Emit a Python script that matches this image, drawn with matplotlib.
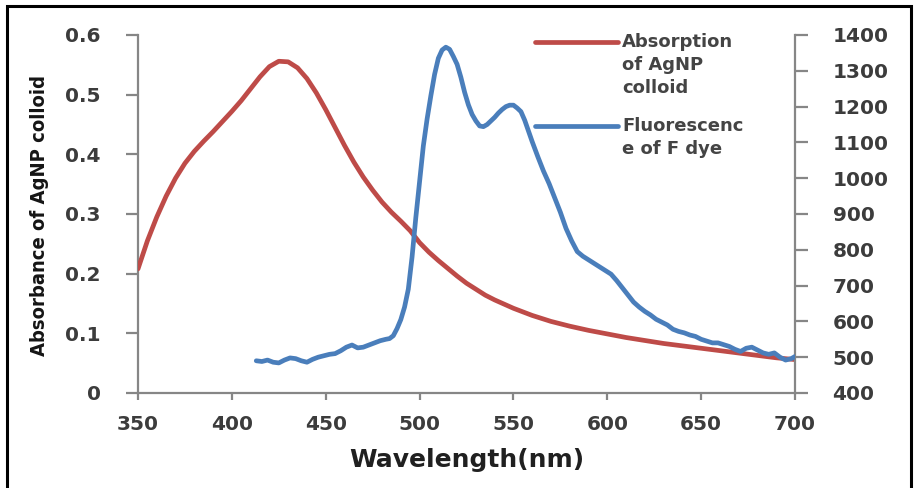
import matplotlib
matplotlib.use("Agg")
import matplotlib.pyplot as plt
from matplotlib.lines import Line2D
from matplotlib.patches import Rectangle

# absorption of AgNP colloid (left axis)
abs_wl = [350, 355, 360, 365, 370, 375, 380, 385, 390, 395, 400, 405, 410, 415,
          420, 425, 430, 435, 440, 445, 450, 455, 460, 465, 470, 475, 480, 485,
          490, 495, 500, 505, 510, 515, 520, 525, 530, 535, 540, 545, 550, 560,
          570, 580, 590, 600, 610, 620, 630, 640, 650, 660, 670, 680, 690, 700]
abs_val = [0.208, 0.255, 0.295, 0.330, 0.360, 0.385, 0.405, 0.422, 0.438, 0.455,
           0.472, 0.490, 0.510, 0.530, 0.547, 0.556, 0.555, 0.545, 0.527, 0.503,
           0.475, 0.445, 0.415, 0.387, 0.362, 0.340, 0.320, 0.303, 0.288, 0.272,
           0.252, 0.236, 0.222, 0.209, 0.196, 0.184, 0.174, 0.164, 0.156, 0.149,
           0.142, 0.130, 0.120, 0.112, 0.105, 0.099, 0.093, 0.088, 0.083, 0.079,
           0.075, 0.071, 0.067, 0.063, 0.059, 0.056]

# fluorescence of F dye (right axis)
fl_wl = [413, 416, 419, 422, 425, 428, 431, 434, 437, 440, 443, 446, 449, 452,
         455, 458, 461, 464, 467, 470, 473, 476, 479, 482, 484, 486, 488, 490,
         492, 494, 496, 498, 500, 502, 504, 506, 508, 510, 512, 514, 516, 518,
         520, 522, 524, 526, 528, 530, 532, 534, 536, 538, 540, 542, 544, 546,
         548, 550, 552, 554, 556, 558, 560, 563, 566, 569, 572, 575, 578, 581,
         584, 587, 590, 593, 596, 599, 602, 605, 608, 611, 614, 617, 620, 623,
         626, 629, 632, 635, 638, 641, 644, 647, 650, 653, 656, 659, 662, 665,
         668, 671, 674, 677, 680, 683, 686, 689, 692, 695, 698, 700]
fl_val = [490, 488, 492, 486, 484, 492, 498, 496, 490, 486, 494, 500, 504, 508,
          510, 518, 528, 534, 526, 528, 534, 540, 546, 550, 552, 560, 580, 605,
          640, 690, 780, 890, 990, 1090, 1165, 1230, 1290, 1335, 1358, 1366,
          1360, 1340, 1318, 1282, 1240, 1205, 1178, 1160, 1146, 1144, 1150, 1160,
          1170, 1182, 1192, 1200, 1204, 1204, 1196, 1186, 1162, 1132, 1102, 1060,
          1020, 985, 945, 905, 860, 825, 795, 782, 772, 762, 752, 742, 732, 714,
          694, 674, 654, 640, 628, 618, 606, 598, 590, 578, 572, 568, 562, 558,
          550, 545, 540, 540, 535, 530, 522, 516, 525, 528, 520, 512, 508, 512,
          500, 492, 496, 502]

x_ticks = [350, 400, 450, 500, 550, 600, 650, 700]
left_ticks = [0, 0.1, 0.2, 0.3, 0.4, 0.5, 0.6]
left_labels = ["0", "0.1", "0.2", "0.3", "0.4", "0.5", "0.6"]
right_ticks = [400, 500, 600, 700, 800, 900, 1000, 1100, 1200, 1300, 1400]

red = "#BE4B48"
blue = "#4A7EBB"
spine_c = "#868686"
txt_c = "#3c3c3c"

fig = plt.figure(figsize=(9.14, 4.88), dpi=100)
W, H = 914, 488
ax = fig.add_axes([138 / W, 1 - 393 / H, (795 - 138) / W, (393 - 35) / H])
ax2 = ax.twinx()

ax.plot(abs_wl, abs_val, color=red, lw=3.4, solid_capstyle="round", zorder=3)
ax2.plot(fl_wl, fl_val, color=blue, lw=3.4, solid_capstyle="round", zorder=3)

ax.set_xlim(350, 700)
ax.set_ylim(0, 0.6)
ax2.set_ylim(400, 1400)
ax.set_xticks(x_ticks)
ax.set_yticks(left_ticks)
ax.set_yticklabels(left_labels)
ax2.set_yticks(right_ticks)

for a in (ax, ax2):
    a.spines["top"].set_visible(False)
    for s in ("left", "right", "bottom"):
        a.spines[s].set_color(spine_c)
        a.spines[s].set_linewidth(1.6)
    a.tick_params(colors=spine_c, labelcolor=txt_c, width=1.6, labelsize=14.5)
    for lab in a.get_xticklabels() + a.get_yticklabels():
        lab.set_fontweight("bold")
ax.spines["right"].set_visible(False)
ax2.spines["left"].set_visible(False)
ax2.spines["bottom"].set_visible(False)
ax.tick_params(axis="y", length=9, pad=18)
ax.tick_params(axis="x", length=5, pad=11)
ax2.tick_params(axis="y", length=9, pad=18)

ax.set_xlabel("Wavelength(nm)", fontsize=18, fontweight="bold", color="#202020",
              labelpad=10)
fig.text(40 / W, 1 - 215 / H, "Absorbance of AgNP colloid",
         family="DejaVu Sans", fontstretch="condensed", fontweight="bold",
         fontsize=14.5, rotation=90, ha="center", va="center", color="#151515")

# legend drawn inside the plot area, top right
legend_items = [(red, ["Absorption", "of AgNP", "colloid"], 42),
                (blue, ["Fluorescenc", "e of F dye"], 126)]
for col, lines, yp in legend_items:
    fig.add_artist(Line2D([535 / W, 618 / W], [1 - yp / H, 1 - yp / H],
                          color=col, lw=3.4, solid_capstyle="round"))
    for k, t in enumerate(lines):
        fig.text(622 / W, 1 - (yp + 23 * k) / H, t, fontsize=13,
                 fontweight="bold", color="#444444", ha="left", va="center")

# outer frame
fig.add_artist(Rectangle((7 / W, -0.05), (911 - 7) / W, 1.05 - 6 / H,
                         transform=fig.transFigure, fill=False,
                         edgecolor="black", lw=2.2))

fig.savefig("out.png", dpi=100)
